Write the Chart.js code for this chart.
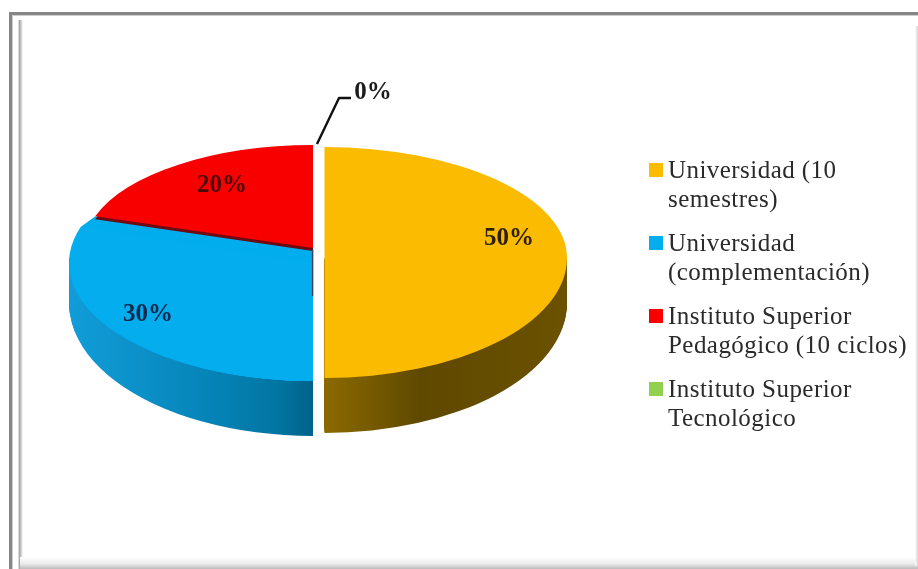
<!DOCTYPE html>
<html>
<head>
<meta charset="utf-8">
<title>Formación</title>
<script src="https://cdn.jsdelivr.net/npm/chart.js@4"></script>
<style>
    html, body { margin: 0; padding: 0; background: #fff; }
    #wrap { position: relative; width: 918px; height: 569px; overflow: hidden; }
    #outer { position: absolute; left: 9px; top: 12px; width: 930px; height: 600px; border: 3px solid #868686; box-sizing: border-box; box-shadow: inset 1px 1px 0 #cfcfcf; }
    #bevelLeft { position: absolute; left: 18px; top: 20px; width: 5px; height: 549px; background: linear-gradient(to right, #f0f0f0, #a9a9a9 30%, #d6d6d6 70%, #fff); }
    #bevelBottom { position: absolute; left: 20px; top: 557px; width: 898px; height: 12px; background: linear-gradient(to bottom, #fff, #ececec 55%, #bcbcbc); }
    #bevelRight { position: absolute; left: 915px; top: 26px; width: 3px; height: 540px; background: linear-gradient(to right, #fff, #d4d4d4); }
    canvas { position: absolute; left: 0; top: 0; }
</style>
</head>
<body>
<div id="wrap">
    <div id="outer"></div>
    <div id="bevelLeft"></div>
    <div id="bevelBottom"></div>
    <div id="bevelRight"></div>
    <canvas id="pieChart" width="918" height="569"></canvas>
</div>
<script>
const categories = [
    ['Universidad (10', 'semestres)'],
    ['Universidad', '(complementación)'],
    ['Instituto Superior', 'Pedagógico (10 ciclos)'],
    ['Instituto Superior', 'Tecnológico']
];
const values = [50, 30, 20, 0];
const valueLabels = ['50%', '30%', '20%', '0%'];

const colors = ['#fabb00', '#03adee', '#f90000', '#92d050'];
const labelColors = ['#2e1f00', '#0b2a4e', '#4a0808', '#1c1c1c'];

// where things sit on the page
const labelPos = [[509, 239], [148, 315], [222, 186], [373, 93]];
const leader = [[317, 144], [339, 98], [351, 98]];

// rx/top/bottom are the half axes of the tilted ellipse around (cx, cy)
const wallLeft = { cx: 313, cy: 248, rx: 244, top: 103, bottom: 133 };
const wallRight = { cx: 324.5, cy: 248, rx: 242.5, top: 101, bottom: 130 };
const faceRight = { cx: 324.5, cy: 258, rx: 242.5, top: 111, bottom: 120 };
const faceRed = { cx: 313, cy: 248, rx: 229, top: 103, bottom: 133 };
const blueNear = { cx: 313, cy: 263, rx: 244, top: 118, bottom: 118 };
const depth = 55;
const serif = "'Liberation Serif', serif";

function sideGradient(ctx, el, geo, i) {
    const shift = el.x - geo.cx;
    let g;
    if (i === 0) {
        g = ctx.createLinearGradient(324 + shift, 0, 567 + shift, 0);
        g.addColorStop(0, '#8c6a00');
        g.addColorStop(0.4, '#5f4900');
        g.addColorStop(1, '#6b5100');
    } else {
        g = ctx.createLinearGradient(69 + shift, 0, 313 + shift, 0);
        g.addColorStop(0, '#119dd9');
        g.addColorStop(0.55, '#0685b9');
        g.addColorStop(0.85, '#0276a3');
        g.addColorStop(1, '#01628a');
    }
    return g;
}

// paints one half of a slice, squeezed into the tilted ellipse
function paintHalf(ctx, el, geo, half, dy, fill) {
    const ry = half === 'top' ? geo.top : geo.bottom;
    const midY = geo.cy + dy;
    ctx.save();
    ctx.beginPath();
    if (half === 'top') ctx.rect(0, 0, 918, midY + 0.5);
    else ctx.rect(0, midY, 918, 569 - midY);
    ctx.clip();
    ctx.translate(geo.cx, midY);
    ctx.scale(geo.rx / el.outerRadius, ry / el.outerRadius);
    ctx.translate(-el.x, -el.y);
    const saved = el.options;
    el.options = { ...saved, backgroundColor: fill, borderWidth: 0 };
    el.draw(ctx);
    el.options = saved;
    ctx.restore();
}

function paintFace(ctx, el, geo, fill) {
    paintHalf(ctx, el, geo, 'top', 0, fill);
    paintHalf(ctx, el, geo, 'bottom', 0, fill);
}

function mix(a, b, t) {
    return a + (b - a) * t;
}

const tiltedPie = {
    id: 'tiltedPie',
    beforeDatasetDraw(chart, args) {
        const ctx = chart.ctx;
        const arcs = chart.getDatasetMeta(args.index).data;

        // side wall, lowest layer first
        for (let dy = depth; dy >= 10; dy--) {
            paintHalf(ctx, arcs[1], wallLeft, 'bottom', dy, sideGradient(ctx, arcs[1], wallLeft, 1));
            paintHalf(ctx, arcs[0], wallRight, 'bottom', dy, sideGradient(ctx, arcs[0], wallRight, 0));
        }

        // yellow top face
        paintFace(ctx, arcs[0], faceRight, colors[0]);

        // the tilt puts the tip of the blue slice above the middle of its ellipse,
        // so sweep from the tip position to the near ellipse
        for (let s = 0; s <= 12; s++) {
            const t = s / 12;
            paintFace(ctx, arcs[1], {
                cx: 313,
                cy: mix(faceRed.cy, blueNear.cy, t),
                rx: mix(faceRed.rx, blueNear.rx, t),
                top: mix(faceRed.top, blueNear.top, t),
                bottom: mix(faceRed.bottom, blueNear.bottom, t)
            }, colors[1]);
        }

        // red slice with its dark rim on the blue one
        paintHalf(ctx, arcs[2], faceRed, 'top', 3, '#6e0a12');
        paintHalf(ctx, arcs[2], faceRed, 'top', 0, colors[2]);

        // thin dark edge at the cut of the blue slice
        ctx.save();
        ctx.strokeStyle = '#3a4258';
        ctx.lineWidth = 1.5;
        ctx.beginPath();
        ctx.moveTo(312.6, 249);
        ctx.lineTo(312.6, 296);
        ctx.stroke();
        ctx.restore();
        return false;
    },
    afterDraw(chart) {
        const ctx = chart.ctx;
        ctx.save();

        // leader line of the 0% label
        ctx.strokeStyle = '#111';
        ctx.lineWidth = 2.4;
        ctx.lineJoin = 'round';
        ctx.beginPath();
        leader.forEach((p, i) => (i ? ctx.lineTo(p[0], p[1]) : ctx.moveTo(p[0], p[1])));
        ctx.stroke();

        // value labels
        ctx.font = 'bold 25px ' + serif;
        ctx.textAlign = 'center';
        ctx.textBaseline = 'middle';
        valueLabels.forEach((txt, i) => {
            ctx.fillStyle = labelColors[i];
            ctx.fillText(txt, labelPos[i][0], labelPos[i][1]);
        });

        // legend
        ctx.font = '25px ' + serif;
        ctx.letterSpacing = '0.45px';
        ctx.textAlign = 'left';
        categories.forEach((lines, i) => {
            const y = 171 + i * 73;
            ctx.fillStyle = colors[i];
            ctx.fillRect(649, y - 8, 14, 14);
            ctx.fillStyle = '#2a2a2a';
            lines.forEach((line, j) => ctx.fillText(line, 668, y + j * 29));
        });
        ctx.restore();
    }
};

new Chart(document.getElementById('pieChart'), {
    type: 'pie',
    data: {
        labels: categories.map(c => c.join(' ')),
        datasets: [{
            data: values,
            backgroundColor: colors,
            borderWidth: 0,
            radius: 244
        }]
    },
    options: {
        responsive: false,
        animation: false,
        events: [],
        plugins: {
            legend: { display: false },
            tooltip: { enabled: false }
        }
    },
    plugins: [tiltedPie]
});
</script>
</body>
</html>
